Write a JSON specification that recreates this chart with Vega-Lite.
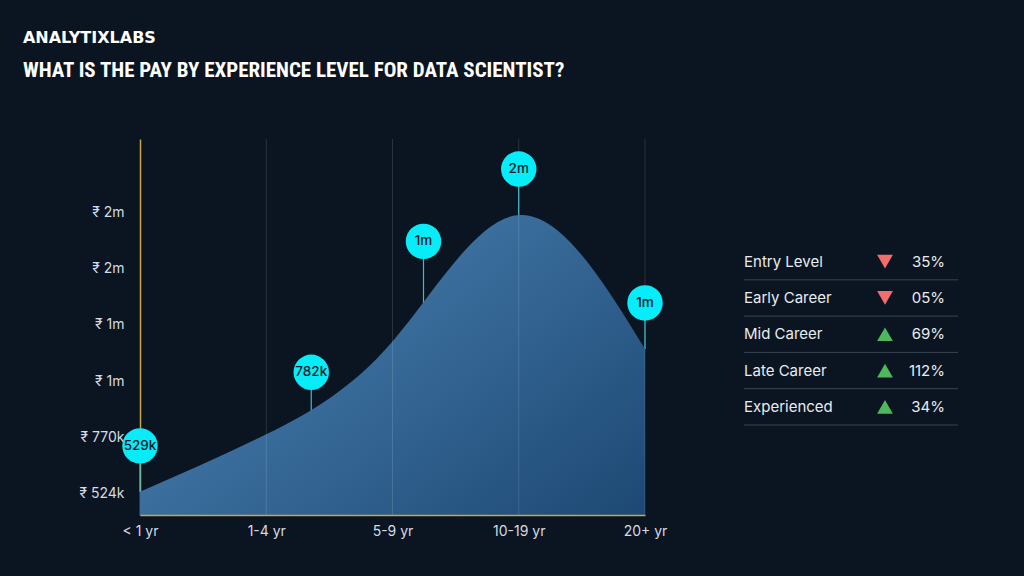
{
  "$schema": "https://vega.github.io/schema/vega-lite/v6.json",
  "background": "#0a1521",
  "padding": {"left": 22, "top": 29, "right": 66, "bottom": 38},
  "title": {
    "text": "ANALYTIXLABS",
    "subtitle": "WHAT IS THE PAY BY EXPERIENCE LEVEL FOR DATA SCIENTIST?",
    "anchor": "start",
    "dx": -56,
    "font": "DejaVu Sans",
    "fontSize": 16,
    "fontWeight": "bold",
    "color": "#ffffff",
    "subtitleFont": "'Roboto Condensed', 'DejaVu Sans Condensed', 'Liberation Sans Narrow', sans-serif",
    "subtitleFontSize": 21,
    "subtitleFontWeight": "bold",
    "subtitleColor": "#ffffff",
    "subtitlePadding": 14,
    "offset": 58
  },
  "bounds": "flush",
  "spacing": 99,
  "center": true,
  "datasets": {
    "pay": [
      {"level": "< 1 yr", "salary": 529000, "label": "529k"},
      {"level": "1-4 yr", "salary": 782000, "label": "782k"},
      {"level": "5-9 yr", "salary": 1190000, "label": "1m"},
      {"level": "10-19 yr", "salary": 1745000, "label": "2m"},
      {"level": "20+ yr", "salary": 1157000, "label": "1m"}
    ],
    "change": [
      {"stage": "Entry Level", "trend": "down", "pct": "35%"},
      {"stage": "Early Career", "trend": "down", "pct": "05%"},
      {"stage": "Mid Career", "trend": "up", "pct": "69%"},
      {"stage": "Late Career", "trend": "up", "pct": "112%"},
      {"stage": "Experienced", "trend": "up", "pct": "34%"}
    ]
  },
  "hconcat": [
    {
      "width": 505,
      "height": 376,
      "data": {"name": "pay"},
      "encoding": {
        "x": {
          "field": "level",
          "type": "ordinal",
          "scale": {"type": "point", "padding": 0, "domain": ["< 1 yr", "1-4 yr", "5-9 yr", "10-19 yr", "20+ yr"]},
          "axis": {
            "title": null, "domainColor": "#c9a646", "domainWidth": 1.5, "ticks": false,
            "labelPadding": 9, "labelColor": "#d5dbe1", "labelFontSize": 14, "labelFont": "Inter",
            "labelAngle": 0, "grid": false, "zindex": 1
          }
        }
      },
      "layer": [
        {
          "mark": {
            "type": "rule", "color": "#3bbccc", "strokeWidth": 1.2,
            "xOffset": {"expr": "datum.level === '1-4 yr' ? 45 : datum.level === '5-9 yr' ? 31 : 0"},
            "yOffset": {"expr": "datum.level === '1-4 yr' ? -62 : datum.level === '5-9 yr' ? -100 : -46"}
          },
          "encoding": {
            "y": {
              "field": "salary", "type": "quantitative",
              "scale": {"domain": [427400, 2079000], "zero": false, "nice": false},
              "axis": {
                "values": [524000, 770000, 1016000, 1262000, 1508000, 1754000],
                "labelExpr": "'₹ ' + (datum.value < 1000000 ? round(datum.value/1000) + 'k' : round(datum.value/1000000) + 'm')",
                "domainColor": "#c9a646", "domainWidth": 1.5, "ticks": false, "grid": false,
                "labelPadding": 16, "labelColor": "#d5dbe1", "labelFontSize": 14, "labelFont": "Inter",
                "title": null, "zindex": 0
              }
            },
            "y2": {"field": "salary"}
          }
        },
        {
          "mark": {
            "type": "area", "interpolate": "natural", "clip": true,
            "color": {
              "gradient": "linear", "x1": 0, "y1": 0, "x2": 1, "y2": 1,
              "stops": [
                {"offset": 0, "color": "#5089ba"},
                {"offset": 1, "color": "#163f6a"}
              ]
            }
          },
          "encoding": {
            "y": {"field": "salary", "type": "quantitative"}
          }
        },
        {
          "transform": [{"filter": "datum.level !== '< 1 yr'"}],
          "mark": {"type": "rule", "color": "#ffffff", "opacity": 0.13, "strokeWidth": 1},
          "encoding": {}
        },
        {
          "mark": {
            "type": "circle", "size": 1257, "color": "#06ecf8", "opacity": 1,
            "xOffset": {"expr": "datum.level === '1-4 yr' ? 45 : datum.level === '5-9 yr' ? 31 : 0"},
            "yOffset": {"expr": "datum.level === '1-4 yr' ? -62 : datum.level === '5-9 yr' ? -100 : -46"}
          },
          "encoding": {
            "y": {"field": "salary", "type": "quantitative"}
          }
        },
        {
          "mark": {
            "type": "text", "font": "Inter", "fontSize": 13.5, "fontWeight": 500, "color": "#0a1826",
            "baseline": "middle", "align": "center",
            "xOffset": {"expr": "datum.level === '1-4 yr' ? 45 : datum.level === '5-9 yr' ? 31 : 0"},
            "yOffset": {"expr": "datum.level === '1-4 yr' ? -62 : datum.level === '5-9 yr' ? -100 : -46"}
          },
          "encoding": {
            "y": {"field": "salary", "type": "quantitative"},
            "text": {"field": "label"}
          }
        }
      ]
    },
    {
      "width": 214,
      "height": 254,
      "data": {"name": "change"},
      "encoding": {
        "y": {
          "field": "stage", "type": "nominal", "sort": null,
          "scale": {"type": "band", "paddingInner": 0, "paddingOuter": 1, "align": 0.6},
          "axis": null
        }
      },
      "layer": [
        {
          "mark": {"type": "rule", "color": "#3a4552", "strokeWidth": 1},
          "encoding": {
            "y": {"field": "stage", "type": "nominal", "sort": null, "bandPosition": 1}
          }
        },
        {
          "mark": {"type": "text", "align": "left", "baseline": "middle", "font": "Inter", "fontSize": 15, "color": "#e8ecef"},
          "encoding": {
            "x": {"datum": "Stage", "type": "nominal", "scale": {"type": "point", "padding": 0, "domain": ["Stage", "Trend", "Change"]}, "axis": null},
            "text": {"field": "stage"}
          }
        },
        {
          "mark": {"type": "point", "filled": true, "size": 250, "opacity": 1, "xOffset": 34},
          "encoding": {
            "x": {"datum": "Trend", "type": "nominal"},
            "shape": {"field": "trend", "type": "nominal", "scale": {"domain": ["down", "up"], "range": ["triangle-down", "triangle-up"]}, "legend": null},
            "color": {"field": "trend", "type": "nominal", "scale": {"domain": ["down", "up"], "range": ["#f26d6d", "#4db85c"]}, "legend": null}
          }
        },
        {
          "mark": {"type": "text", "align": "right", "baseline": "middle", "dx": -13, "font": "Inter", "fontSize": 15, "color": "#e8ecef"},
          "encoding": {
            "x": {"datum": "Change", "type": "nominal"},
            "text": {"field": "pct"}
          }
        }
      ]
    }
  ],
  "config": {"view": {"stroke": null}, "font": "Inter"}
}
